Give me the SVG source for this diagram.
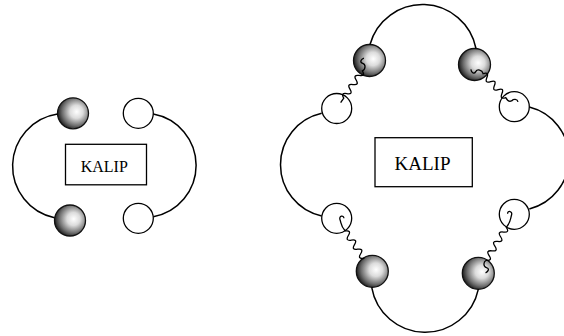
<svg xmlns="http://www.w3.org/2000/svg" width="564" height="336" viewBox="0 0 564 336">
<defs>
<radialGradient id="ballGrad" cx="0.6" cy="0.45" r="0.6" fx="0.62" fy="0.45">
<stop offset="0" stop-color="#ffffff"/>
<stop offset="0.35" stop-color="#dcdcdc"/>
<stop offset="0.75" stop-color="#6e6e6e"/>
<stop offset="1" stop-color="#1e1e1e"/>
</radialGradient>
<style>
.ball{fill:url(#ballGrad);stroke:#111;stroke-width:1.3}
.site{fill:#fff;stroke:#000;stroke-width:1.3}
.box{fill:#fff;stroke:#000;stroke-width:1.3}
.lbl{font-family:"Liberation Serif","Times New Roman",serif;fill:#000;text-anchor:middle}
.arc{fill:none;stroke:#000;stroke-width:1.5}
.wave{fill:none;stroke:#000;stroke-width:1.3}
</style>
</defs>
<rect width="564" height="336" fill="#fff"/>

<!-- Left diagram -->
<g id="left-ball-top"><circle class="ball" cx="73" cy="113.3" r="15.5"/></g>
<g id="left-ball-bottom"><circle class="ball" cx="70" cy="220.5" r="15.5"/></g>
<g id="left-site-top"><circle class="site" cx="138.3" cy="113.3" r="15"/></g>
<g id="left-site-bottom"><circle class="site" cx="138.3" cy="218.3" r="15"/></g>
<g id="left-kalip"><rect class="box" x="65.5" y="144.3" width="81" height="40.5"/><text class="lbl" x="104.3" y="171.5" font-size="16">KALIP</text></g>

<!-- Right diagram -->
<g id="right-ball-tl"><circle class="ball" cx="369.5" cy="60.5" r="16"/></g>
<g id="right-ball-tr"><circle class="ball" cx="474.5" cy="64.5" r="16"/></g>
<g id="right-ball-bl"><circle class="ball" cx="372.3" cy="271.3" r="16"/></g>
<g id="right-ball-br"><circle class="ball" cx="478.3" cy="273.3" r="16"/></g>
<g id="right-site-tl"><circle class="site" cx="336.7" cy="108.5" r="15"/></g>
<g id="right-site-tr"><circle class="site" cx="514.3" cy="106.7" r="15"/></g>
<g id="right-site-bl"><circle class="site" cx="336.7" cy="218.3" r="15"/></g>
<g id="right-site-br"><circle class="site" cx="514.3" cy="214.3" r="15"/></g>
<g id="right-kalip"><rect class="box" x="375" y="137.7" width="97.3" height="49"/><text class="lbl" x="422.5" y="170" font-size="19">KALIP</text></g>

<g id="connectors">
<path class="arc" d="M57.5,114 A52.7,52.7 0 0 0 54.5,217.7"/>
<path class="arc" d="M153.3,114 A52.2,52.2 0 0 1 153.3,216.7"/>
<path class="arc" d="M321.7,113.3 A52.6,52.6 0 0 0 321.7,216"/>
<path class="arc" d="M529.3,107 A52.6,52.6 0 0 1 529.3,209"/>
<path class="arc" d="M370,44.5 A54.5,54.5 0 0 1 476,48.5"/>
<path class="arc" d="M371.7,287.3 A54.3,54.3 0 0 0 478.3,289.3"/>

<g transform="translate(336.7,108.5) rotate(-55.7)">
<path class="wave" d="M7,0 L12.5,0 q2.75,-6 5.5,0 t5.5,0 t5.5,0 t5.5,0 t5.5,0 t5.5,0 C49,2 53,-1 52,-4 S54,-8 57,-6"/>
</g>
<g transform="translate(514.3,106.7) rotate(-133.3)">
<path class="wave" d="M1,6 C4,8 6,4 6,4 S5,-2 12.5,0 q2.75,-6 5.5,0 t5.5,0 t5.5,0 t5.5,0 t5.5,0 t5.5,0 C49,2 53,-1 52,-4 S54,-8 57,-6"/>
</g>
<g transform="translate(336.7,218.3) rotate(55.95)">
<path class="wave" d="M4,-6 C1,-8 -1,-3 3,-2 S8,1 15.3,0 q2.75,-6 5.5,0 t5.5,0 t5.5,0 t5.5,0 t5.5,0 t5.5,0 L49,0"/>
</g>
<g transform="translate(514.3,214.3) rotate(121.4)">
<path class="wave" d="M3,6 C0,8 -2,3 2,2 S8,-1 15.3,0 q2.75,-6 5.5,0 t5.5,0 t5.5,0 t5.5,0 t5.5,0 t5.5,0 t5.5,0 C57,2 61,-1 60,-4 S62,-8 65,-6"/>
</g>
</g>
</svg>
